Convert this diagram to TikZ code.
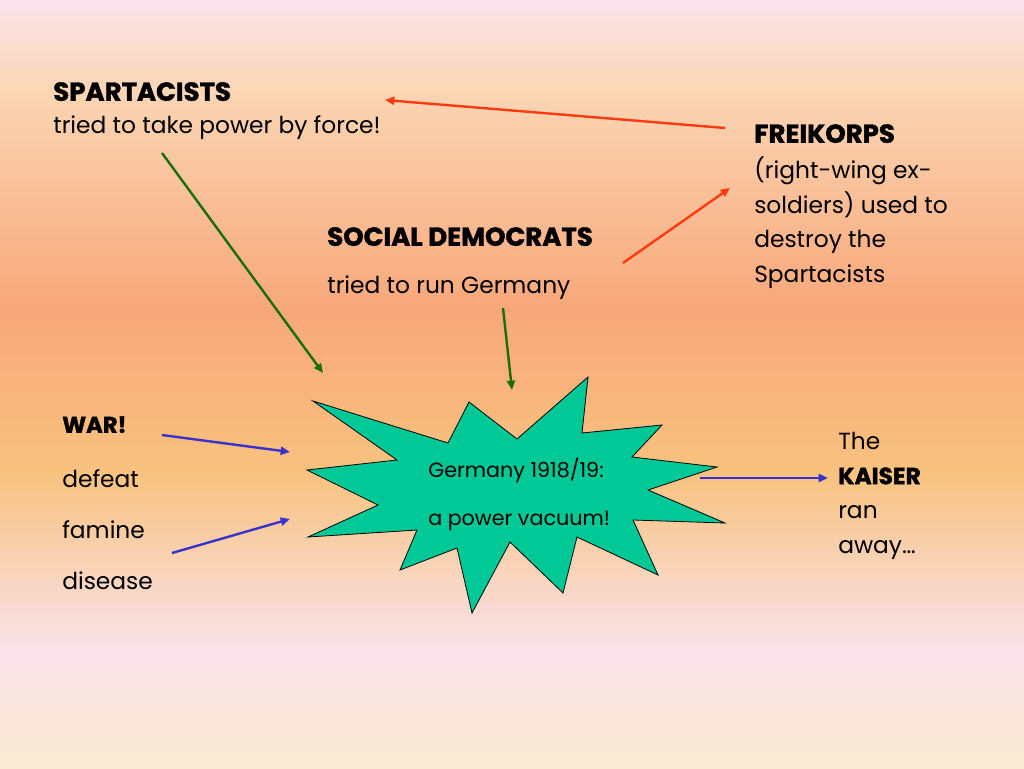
\documentclass[tikz,border=0pt]{standalone}
\usepackage{fontspec}
\setmainfont{Poppins}[BoldFeatures={FakeBold=1.6}]
\usepackage{tikz}
\usetikzlibrary{positioning,arrows.meta}

\definecolor{bgtop}{HTML}{FBE4EC}
\definecolor{bgpeach}{HTML}{FAD6B4}
\definecolor{bgorange}{HTML}{F8A77A}
\definecolor{bggold}{HTML}{F8C27E}
\definecolor{bgpink}{HTML}{F9E2EA}
\definecolor{bgcream}{HTML}{FAEAD2}
\definecolor{starfill}{HTML}{00C896}
\definecolor{redarr}{HTML}{FF3A10}
\definecolor{greenarr}{HTML}{1A6E0A}
\definecolor{bluearr}{HTML}{3A32CC}
\pgfdeclareverticalshading{slidebg}{100bp}{color(0bp)=(bgcream); color(25bp)=(bgcream);
  color(32.7bp)=(bgpink); color(44.4bp)=(bggold); color(54.8bp)=(bgorange);
  color(69.1bp)=(bgpeach); color(75bp)=(bgtop); color(100bp)=(bgtop)}

\begin{document}
\begin{tikzpicture}[x=0.75pt, y=-0.75pt,
  head/.style={inner sep=0pt, anchor=north west, font=\bfseries\fontsize{19.5}{24}\selectfont},
  body/.style={inner sep=0pt, anchor=north west, align=left, font=\fontsize{17.5}{26}\selectfont},
  link/.style={-{Triangle[length=7pt,width=6pt]}, line width=1.8pt},
  vacstar/.style={draw=black, line width=0.6pt, fill=starfill}]
\fill[shading=slidebg] (0,0) rectangle (1024,768);
% the power vacuum
\draw[vacstar] (313,401) -- (448,443) -- (469,402) -- (517,439) -- (588,377) -- (582,433)
  -- (662,425) -- (632,457) -- (717,467) -- (648,490) -- (725,523) -- (633,520)
  -- (658,575) -- (577,537) -- (563,593) -- (510,542) -- (472,613) -- (457,548)
  -- (400,570) -- (417,530) -- (308,537) -- (378,505) -- (307,470) -- (397,460) -- cycle;
\node[body, font=\fontsize{15.5}{36}\selectfont] (vac) at (428,458) {Germany 1918/19:\\a power vacuum!};
% groups
\node[head] (spa) at (53,82) {SPARTACISTS};
\node[body, below right=11pt and 0pt of spa.south west] (spab) {tried to take power by force!};
\node[head] (sd) at (327,227) {SOCIAL DEMOCRATS};
\node[body, below right=22pt and 0pt of sd.south west] (sdb) {tried to run Germany};
\node[head] (fk) at (754,124) {FREIKORPS};
\node[body, below right=10pt and 0pt of fk.south west] (fkb) {(right-wing ex-\\soldiers) used to\\destroy the\\Spartacists};
\node[head, font=\bfseries\fontsize{17}{24}\selectfont] (war) at (62,416) {WAR!};
\node[body, font=\fontsize{17.5}{38.5}\selectfont, below right=27pt and 0pt of war.south west] (warb) {defeat\\famine\\disease};
\node[body] (kai) at (838,432) {The\\\textbf{KAISER}\\ran\\away\dots};
% connectors
\coordinate (fk-tail) at (725,128);  \coordinate (spa-tip) at (385,100);
\coordinate (sd-tail) at (623,263);  \coordinate (fk-tip) at (730,188);
\coordinate (spa-tail) at (162,153); \coordinate (vac-nw) at (323,373);
\coordinate (sd-tail2) at (503,308); \coordinate (vac-n) at (512,390);
\coordinate (war-tail) at (162,435); \coordinate (vac-w1) at (290,452);
\coordinate (dis-tail) at (172,553); \coordinate (vac-w2) at (290,519);
\coordinate (vac-e) at (700,478);    \coordinate (kai-tip) at (828,478);
\foreach \u/\v/\c in {fk-tail/spa-tip/redarr, sd-tail/fk-tip/redarr,
  spa-tail/vac-nw/greenarr, sd-tail2/vac-n/greenarr,
  war-tail/vac-w1/bluearr, dis-tail/vac-w2/bluearr, vac-e/kai-tip/bluearr}
  \draw[link, draw=\c, fill=\c] (\u) -- (\v);
\end{tikzpicture}
\end{document}
